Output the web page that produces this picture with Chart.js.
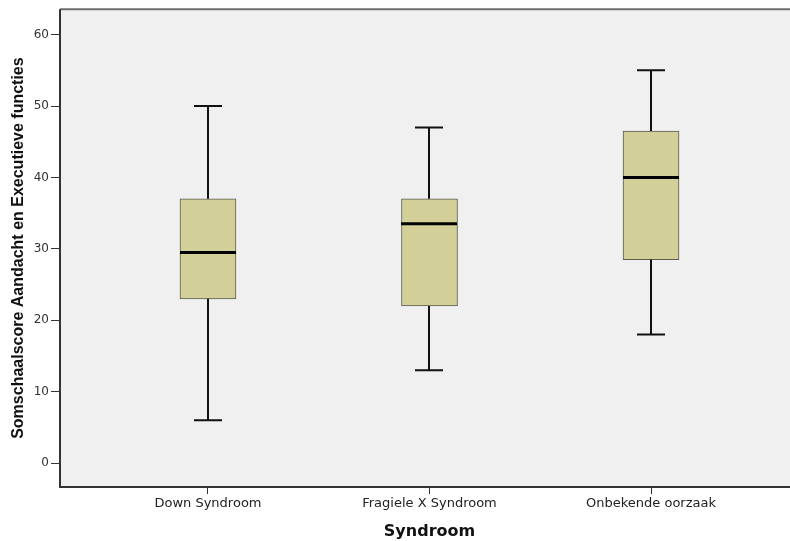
<!DOCTYPE html>
<html>
<head>
<meta charset="utf-8">
<script src="https://cdn.jsdelivr.net/npm/chart.js@4.4.1/dist/chart.umd.min.js"></script>
<style>
  html, body { margin: 0; padding: 0; background: #ffffff; overflow: hidden; }
  #wrap { width: 810px; height: 541px; }
</style>
</head>
<body>
<div id="wrap"><canvas id="c" width="810" height="541"></canvas></div>
<script>
// Box plot summary per syndrome group
const categories = ['Down Syndroom', 'Fragiele X Syndroom', 'Onbekende oorzaak'];
const whiskerLow  = [6, 13, 18];
const quartile1   = [23, 22, 28.5];
const medians     = [29.5, 33.5, 40];
const quartile3   = [37, 37, 46.5];
const whiskerHigh = [50, 47, 55];
const yTicks      = [0, 10, 20, 30, 40, 50, 60];

const boxes = categories.map((c, i) => ({ x: i + 1, y: [quartile1[i], quartile3[i]] }));

// plot background and frame
const framePlugin = {
  id: 'frame',
  beforeDatasetsDraw(chart) {
    const { ctx, chartArea: a } = chart;
    ctx.save();
    ctx.fillStyle = '#f0f0f0';
    ctx.fillRect(a.left, a.top, a.right - a.left, a.bottom - a.top);
    ctx.restore();
  },
  afterDraw(chart) {
    const { ctx, chartArea: a } = chart;
    ctx.save();
    ctx.lineWidth = 2;
    ctx.strokeStyle = '#6e6e6e';
    ctx.beginPath();
    ctx.moveTo(a.left, a.top); ctx.lineTo(a.right, a.top);
    ctx.stroke();
    ctx.strokeStyle = '#333333';
    ctx.beginPath();
    ctx.moveTo(a.left, a.top); ctx.lineTo(a.left, a.bottom); ctx.lineTo(a.right, a.bottom);
    ctx.stroke();
    ctx.restore();
  }
};

// whiskers, caps and median lines
const whiskerPlugin = {
  id: 'whiskers',
  afterDatasetsDraw(chart) {
    const { ctx } = chart;
    const xs = chart.scales.x, ys = chart.scales.y;
    const meta = chart.getDatasetMeta(0);
    ctx.save();
    categories.forEach((c, i) => {
      const cx = Math.round(xs.getPixelForValue(i + 1));
      const bar = meta.data[i];
      const half = bar.width / 2;
      const yLo = ys.getPixelForValue(whiskerLow[i]);
      const yQ1 = ys.getPixelForValue(quartile1[i]);
      const yQ3 = ys.getPixelForValue(quartile3[i]);
      const yHi = ys.getPixelForValue(whiskerHigh[i]);
      const yMed = ys.getPixelForValue(medians[i]);
      ctx.strokeStyle = '#111111';
      ctx.lineWidth = 2;
      ctx.beginPath();
      ctx.moveTo(cx, yQ3); ctx.lineTo(cx, yHi);
      ctx.moveTo(cx, yQ1); ctx.lineTo(cx, yLo);
      ctx.moveTo(cx - 14, yHi); ctx.lineTo(cx + 14, yHi);
      ctx.moveTo(cx - 14, yLo); ctx.lineTo(cx + 14, yLo);
      ctx.stroke();
      ctx.strokeStyle = '#000000';
      ctx.lineWidth = 3;
      ctx.beginPath();
      ctx.moveTo(cx - half, yMed); ctx.lineTo(cx + half, yMed);
      ctx.stroke();
    });
    ctx.restore();
  }
};

new Chart(document.getElementById('c'), {
  type: 'bar',
  data: {
    datasets: [{
      data: boxes,
      backgroundColor: '#d3cf98',
      borderColor: '#5a5a50',
      borderWidth: 1,
      borderSkipped: false,
      barThickness: 56
    }]
  },
  options: {
    responsive: false,
    animation: false,
    layout: { padding: { top: 8, right: 11, left: 0, bottom: 0 } },
    plugins: { legend: { display: false }, tooltip: { enabled: false } },
    scales: {
      x: {
        type: 'linear',
        offset: false,
        min: 0.332,
        max: 3.668,
        afterBuildTicks(scale) { scale.ticks = categories.map((c, i) => ({ value: i + 1 })); },
        afterFit(scale) { scale.height = 54; },
        grid: { offset: false, drawOnChartArea: false, drawTicks: true, tickLength: 7, color: '#333333', tickWidth: 1 },
        border: { display: false },
        ticks: {
          autoSkip: false,
          maxRotation: 0,
          padding: 2,
          color: '#222222',
          font: { family: 'DejaVu Sans', size: 13 },
          callback: (v) => categories[Math.round(v) - 1]
        },
        title: {
          display: true,
          text: 'Syndroom',
          color: '#111111',
          padding: { top: 6, bottom: 0 },
          font: { family: 'DejaVu Sans', size: 16, weight: 'bold' }
        }
      },
      y: {
        type: 'linear',
        min: -3.35,
        max: 63.56,
        afterBuildTicks(scale) { scale.ticks = yTicks.map(v => ({ value: v })); },
        afterFit(scale) { scale.width = 60; },
        grid: { drawOnChartArea: false, drawTicks: true, tickLength: 9, color: '#333333', tickWidth: 1 },
        border: { display: false },
        ticks: {
          padding: 2,
          color: '#333333',
          font: { family: 'DejaVu Sans', size: 12 }
        },
        title: {
          display: true,
          text: 'Somschaalscore Aandacht en Executieve functies',
          color: '#111111',
          padding: { top: 9, bottom: 0 },
          font: { family: 'Liberation Sans', size: 16, weight: 'bold' }
        }
      }
    }
  },
  plugins: [framePlugin, whiskerPlugin]
});
</script>
</body>
</html>
